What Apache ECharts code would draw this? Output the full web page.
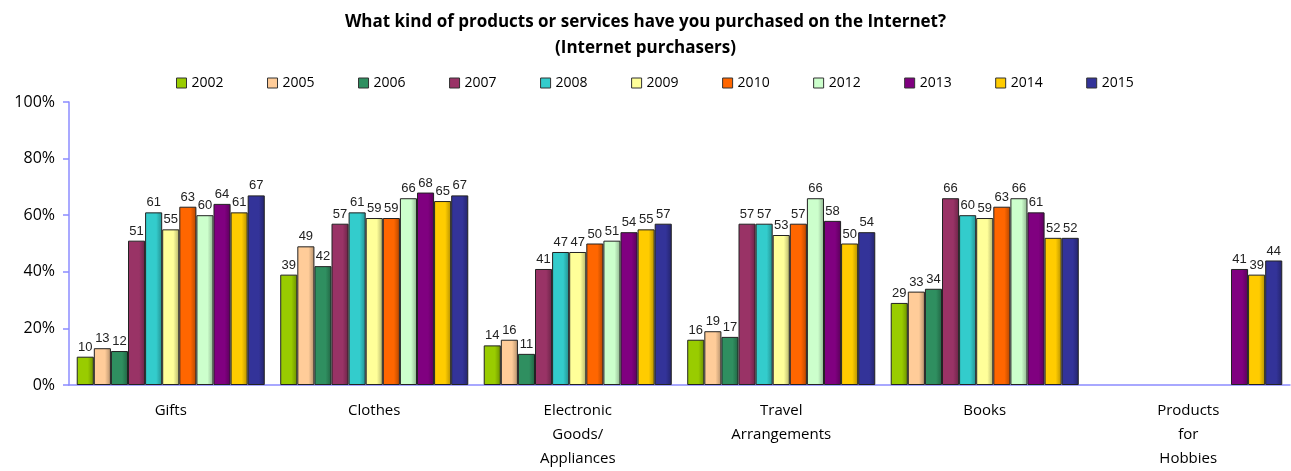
<!DOCTYPE html>
<html><head><meta charset="utf-8">
<script src="https://cdn.jsdelivr.net/npm/echarts@6/dist/echarts.min.js"></script>
<style>html,body{margin:0;padding:0;background:#fff}#c{width:1291px;height:471px}</style>
</head><body><div id="c"></div>
<script>
const categories = ['Gifts', 'Clothes', 'Electronic\nGoods/\nAppliances', 'Travel\nArrangements', 'Books', 'Products\nfor\nHobbies'];
const years = ['2002','2005','2006','2007','2008','2009','2010','2012','2013','2014','2015'];
const colors = ['#99cc00','#ffcc99','#2f8f60','#993366','#33cccc','#ffff99','#ff6600','#ccffcc','#800080','#ffcc00','#333399'];
const v2002 = [10, 39, 14, 16, 29, null];
const v2005 = [13, 49, 16, 19, 33, null];
const v2006 = [12, 42, 11, 17, 34, null];
const v2007 = [51, 57, 41, 57, 66, null];
const v2008 = [61, 61, 47, 57, 60, null];
const v2009 = [55, 59, 47, 53, 59, null];
const v2010 = [63, 59, 50, 57, 63, null];
const v2012 = [60, 66, 51, 66, 66, null];
const v2013 = [64, 68, 54, 58, 61, 41];
const v2014 = [61, 65, 55, 50, 52, 39];
const v2015 = [67, 67, 57, 54, 52, 44];
const values = [v2002, v2005, v2006, v2007, v2008, v2009, v2010, v2012, v2013, v2014, v2015];
const yTicks = [0, 20, 40, 60, 80, 100];

function shade(hex, f) {
  const n = parseInt(hex.slice(1), 16);
  const r = Math.round(((n >> 16) & 255) * f), g = Math.round(((n >> 8) & 255) * f), b = Math.round((n & 255) * f);
  return 'rgb(' + r + ',' + g + ',' + b + ')';
}

const font = '"Open Sans", "Liberation Sans", sans-serif';
const chart = echarts.init(document.getElementById('c'));
chart.setOption({
  animation: false,
  title: {
    text: 'What kind of products or services have you purchased on the Internet?\n(Internet purchasers)',
    left: 'center', top: 4,
    textStyle: { fontFamily: font, fontSize: 17, fontWeight: 'bold', color: '#000', lineHeight: 26 }
  },
  legend: {
    top: 71, left: 171,
    icon: 'rect',
    itemWidth: 10, itemHeight: 10, itemGap: 43.5,
    textStyle: { fontFamily: font, fontSize: 14, color: '#000' },
    data: years.map((y, i) => ({ name: y, itemStyle: { color: colors[i], borderColor: '#333', borderWidth: 1 } }))
  },
  grid: { left: 69, right: 1, top: 102, bottom: 85 },
  xAxis: {
    type: 'category', data: categories,
    axisLine: { lineStyle: { color: '#8c8cff', width: 1.5 } },
    axisTick: { show: false },
    axisLabel: { fontFamily: font, fontSize: 15, color: '#000', lineHeight: 24, margin: 14 }
  },
  yAxis: {
    type: 'value', min: 0, max: 100, interval: 20,
    axisLine: { show: true, lineStyle: { color: '#8c8cff', width: 1.5 } },
    axisTick: { show: true, length: 6, lineStyle: { color: '#8c8cff', width: 1.5 } },
    splitLine: { show: false },
    axisLabel: { fontFamily: font, fontSize: 16, color: '#000', margin: 14, formatter: v => yTicks.includes(v) ? v + '%' : '' }
  },
  series: years.map((y, i) => ({
    name: y, type: 'bar', data: values[i],
    barGap: '0%', barCategoryGap: '7.6%',
    itemStyle: {
      color: new echarts.graphic.LinearGradient(0, 0, 1, 0, [
        { offset: 0, color: colors[i] },
        { offset: 0.65, color: colors[i] },
        { offset: 1, color: shade(colors[i], 0.7) }
      ]),
      borderColor: '#222', borderWidth: 1
    },
    label: { show: true, position: 'top', distance: 3, fontFamily: 'Arial, "Liberation Sans", sans-serif', fontSize: 13, color: '#222' }
  }))
});
</script></body></html>
